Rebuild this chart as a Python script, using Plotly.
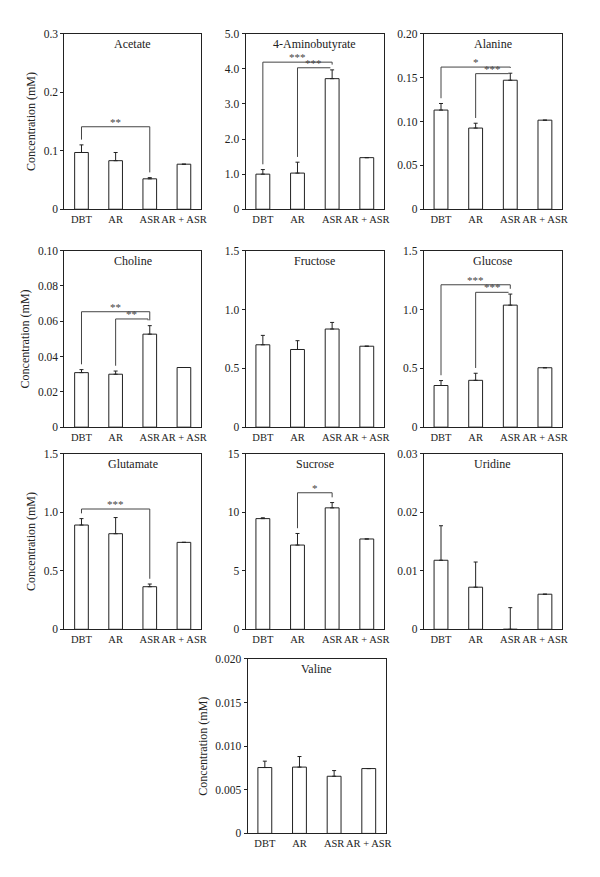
import plotly.graph_objects as go

# ---------------- data ----------------
groups = ["DBT", "AR", "ASR", "AR + ASR"]
metabolites = ["Acetate", "4-Aminobutyrate", "Alanine", "Choline", "Fructose",
               "Glucose", "Glutamate", "Sucrose", "Uridine", "Valine"]

acetate_mean = [0.097, 0.083, 0.052, 0.077]
acetate_err = [0.013, 0.014, 0.002, 0.0]
aminobutyrate_mean = [1.00, 1.03, 3.72, 1.47]
aminobutyrate_err = [0.13, 0.31, 0.25, 0.0]
alanine_mean = [0.113, 0.0925, 0.147, 0.1015]
alanine_err = [0.0075, 0.0055, 0.008, 0.0]
choline_mean = [0.0309, 0.0300, 0.0527, 0.0338]
choline_err = [0.0017, 0.0018, 0.0048, 0.0]
fructose_mean = [0.70, 0.66, 0.834, 0.688]
fructose_err = [0.08, 0.075, 0.056, 0.0]
glucose_mean = [0.354, 0.398, 1.037, 0.505]
glucose_err = [0.042, 0.06, 0.094, 0.0]
glutamate_mean = [0.891, 0.817, 0.364, 0.743]
glutamate_err = [0.055, 0.138, 0.023, 0.0]
sucrose_mean = [9.46, 7.20, 10.38, 7.72]
sucrose_err = [0.07, 0.99, 0.45, 0.0]
uridine_mean = [0.0118, 0.0072, 0.0, 0.0060]
uridine_err = [0.0059, 0.0043, 0.0037, 0.0]
valine_mean = [0.00755, 0.0076, 0.00655, 0.00743]
valine_err = [0.00073, 0.00121, 0.00065, 0.0]

acetate_ticks = [0, 0.1, 0.2, 0.3]
acetate_ticktext = ["0", "0.1", "0.2", "0.3"]
aminobutyrate_ticks = [0, 1, 2, 3, 4, 5]
aminobutyrate_ticktext = ["0", "1.0", "2.0", "3.0", "4.0", "5.0"]
alanine_ticks = [0, 0.05, 0.10, 0.15, 0.20]
alanine_ticktext = ["0", "0.05", "0.10", "0.15", "0.20"]
choline_ticks = [0, 0.02, 0.04, 0.06, 0.08, 0.10]
choline_ticktext = ["0", "0.02", "0.04", "0.06", "0.08", "0.10"]
fructose_ticks = [0, 0.5, 1.0, 1.5]
fructose_ticktext = ["0", "0.5", "1.0", "1.5"]
glucose_ticks = [0, 0.5, 1.0, 1.5]
glucose_ticktext = ["0", "0.5", "1.0", "1.5"]
glutamate_ticks = [0, 0.5, 1.0, 1.5]
glutamate_ticktext = ["0", "0.5", "1.0", "1.5"]
sucrose_ticks = [0, 5, 10, 15]
sucrose_ticktext = ["0", "5", "10", "15"]
uridine_ticks = [0, 0.01, 0.02, 0.03]
uridine_ticktext = ["0", "0.01", "0.02", "0.03"]
valine_ticks = [0, 0.005, 0.010, 0.015, 0.020]
valine_ticktext = ["0", "0.005", "0.010", "0.015", "0.020"]

# significance brackets
bracket_panel = ["Acetate", "4-Aminobutyrate", "4-Aminobutyrate", "Alanine", "Alanine",
                 "Choline", "Choline", "Glucose", "Glucose", "Glutamate", "Sucrose"]
bracket_from = [0, 0, 1, 0, 1, 0, 1, 0, 1, 0, 1]
bracket_to = [2, 2, 2, 2, 2, 2, 2, 2, 2, 2, 2]
bracket_height = [0.141, 4.19, 4.03, 0.162, 0.1545, 0.0654, 0.0613, 1.21, 1.146, 1.028, 11.67]
bracket_label = ["**", "***", "***", "*", "***", "**", "**", "***", "***", "***", "*"]

means = [acetate_mean, aminobutyrate_mean, alanine_mean, choline_mean, fructose_mean,
         glucose_mean, glutamate_mean, sucrose_mean, uridine_mean, valine_mean]
errs = [acetate_err, aminobutyrate_err, alanine_err, choline_err, fructose_err,
        glucose_err, glutamate_err, sucrose_err, uridine_err, valine_err]
ticks = [acetate_ticks, aminobutyrate_ticks, alanine_ticks, choline_ticks, fructose_ticks,
         glucose_ticks, glutamate_ticks, sucrose_ticks, uridine_ticks, valine_ticks]
ticktexts = [acetate_ticktext, aminobutyrate_ticktext, alanine_ticktext, choline_ticktext,
             fructose_ticktext, glucose_ticktext, glutamate_ticktext, sucrose_ticktext,
             uridine_ticktext, valine_ticktext]

# ---------------- layout geometry (page pixels) ----------------
PAGE_W, PAGE_H = 600, 877
OFF = 8  # default body margin of the html page
W, H = PAGE_W - 2 * OFF, PAGE_H - 2 * OFF
col_x = [(65, 203), (248, 388), (428, 568)]
row_y = [(28, 206), (248, 427), (454, 632)]
panel_box = []
for r in range(3):
    for c in range(3):
        panel_box.append((col_x[c], row_y[r]))
panel_box.append(((250, 390), (662, 839)))
left_col = {0, 3, 6, 9}

FONT = "Liberation Serif"
INK = "#222222"

fig = go.Figure()
layout = dict(width=W, height=H, margin=dict(l=0, r=0, t=0, b=0),
              paper_bgcolor="white", plot_bgcolor="white", showlegend=False,
              font=dict(family=FONT, size=11, color=INK), annotations=[])

xs = list(range(len(groups)))
for i, name in enumerate(metabolites):
    n = "" if i == 0 else str(i + 1)
    (x0, x1), (y0, y1) = panel_box[i]
    x0, x1, y0, y1 = x0 - OFF, x1 - OFF, y0 - OFF, y1 - OFF
    fig.add_trace(go.Bar(
        x=xs, y=means[i], xaxis="x" + n, yaxis="y" + n, width=0.4,
        marker=dict(color="white", line=dict(color=INK, width=1)),
        error_y=dict(type="data", array=errs[i], arrayminus=[0] * 4, symmetric=False,
                     color=INK, thickness=1, width=2),
    ))
    ymax = ticks[i][-1]
    layout["xaxis" + n] = dict(
        domain=[x0 / W, x1 / W], anchor="y" + n, range=[-0.5, 3.5],
        tickvals=xs, ticktext=groups, ticks="", tickangle=0, showline=True, mirror=True,
        linecolor=INK, linewidth=1, showgrid=False, zeroline=False,
        tickfont=dict(size=10.5, family=FONT, color=INK), fixedrange=True)
    ydict = dict(
        domain=[1 - y1 / H, 1 - y0 / H], anchor="x" + n, range=[0, ymax],
        tickvals=ticks[i], ticktext=ticktexts[i], ticks="outside", ticklen=3,
        tickcolor=INK, showline=True, mirror=True, linecolor=INK, linewidth=1,
        showgrid=False, zeroline=False, tickfont=dict(size=11.5, family=FONT, color=INK),
        fixedrange=True)
    if i in left_col:
        ydict["title"] = dict(text="Concentration (mM)", standoff=5,
                              font=dict(size=12, family=FONT, color=INK))
    layout["yaxis" + n] = ydict
    layout["annotations"].append(dict(
        text=name, xref="x" + n + " domain", yref="y" + n + " domain",
        x=0.5, y=1, xanchor="center", yanchor="top", yshift=-1, showarrow=False,
        font=dict(size=12, family=FONT, color=INK)))

# brackets
for k, pname in enumerate(bracket_panel):
    i = metabolites.index(pname)
    n = "" if i == 0 else str(i + 1)
    rng = ticks[i][-1]
    gap = 0.03 * rng
    a, b = bracket_from[k], bracket_to[k]
    h = bracket_height[k]
    top_a = means[i][a] + errs[i][a] + gap
    top_b = min(means[i][b] + errs[i][b] + gap, h)
    shift = 0.0
    for m, other in enumerate(bracket_panel):
        if m != k and other == pname and bracket_to[m] == b and bracket_height[m] > h:
            shift = -0.05
    xa, xb = a, b + shift
    fig.add_trace(go.Scatter(
        x=[xa, xa, xb, xb], y=[top_a, h, h, top_b], mode="lines",
        line=dict(color="#444444", width=1), xaxis="x" + n, yaxis="y" + n,
        hoverinfo="skip"))
    layout["annotations"].append(dict(
        text=bracket_label[k], x=(xa + xb) / 2, y=h, xref="x" + n, yref="y" + n,
        xanchor="center", yanchor="bottom", yshift=-3, showarrow=False,
        font=dict(size=11, family=FONT, color="#444444")))

fig.update_layout(**layout)
fig.write_html("out.html")
